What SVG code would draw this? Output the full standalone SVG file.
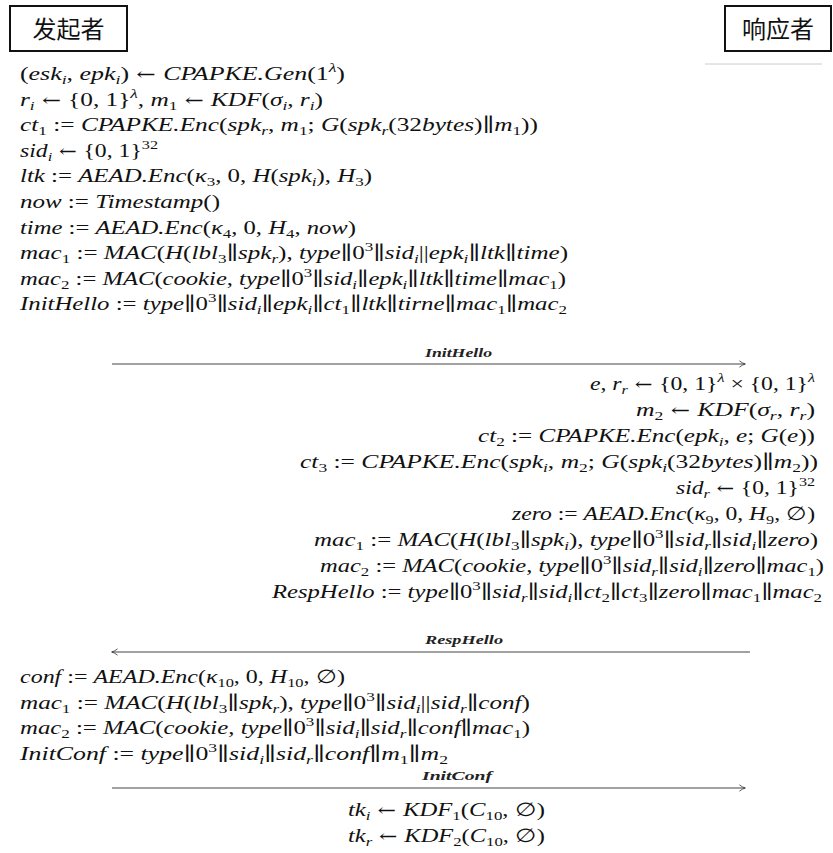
<svg xmlns="http://www.w3.org/2000/svg" width="833" height="853" viewBox="0 0 833 853">
<defs>
<style>
.m{font-family:"Liberation Serif","DejaVu Serif",serif;font-style:italic;font-size:19px;fill:#111}
.u{font-style:normal}
.a{font-family:"DejaVu Serif",serif;font-style:normal;font-size:17px}
.b{font-size:13px;baseline-shift:-4px}
.p{font-size:13px;baseline-shift:8px}
.lbl{font-family:"Liberation Serif","DejaVu Serif",serif;font-style:italic;font-weight:bold;font-size:12.5px;fill:#222}
.hd{font-family:"Noto Sans CJK SC","Noto Sans",sans-serif;font-size:24px;fill:#111;text-anchor:middle}
.box{fill:#fff;stroke:#111;stroke-width:2}
.arr{stroke:#444;stroke-width:1.1;fill:none;marker-end:url(#ah)}
</style>
<marker id="ah" viewBox="0 0 10 10" refX="9" refY="5" markerWidth="8" markerHeight="8" orient="auto" markerUnits="userSpaceOnUse">
<path d="M2,1 Q6,4.2 9.5,5 Q6,5.8 2,9" fill="none" stroke="#333" stroke-width="1"/>
</marker>
</defs>
<rect width="833" height="853" fill="#fff"/>

<g id="initiator">
<rect class="box" x="10" y="6" width="117" height="45"/>
<text class="hd" x="68.5" y="38">发起者</text>
</g>
<g id="responder">
<rect class="box" x="725" y="6" width="106" height="45"/>
<text class="hd" x="778" y="38">响应者</text>
<line x1="705" y1="64" x2="822" y2="64" stroke="#ccc" stroke-width="1"/>
</g>

<g id="initiator-step1">
<text class="m" x="20" y="80" textLength="325" lengthAdjust="spacingAndGlyphs"><tspan class="u">(</tspan>esk<tspan class="b">i</tspan><tspan class="u">, </tspan>epk<tspan class="b">i</tspan><tspan class="u">)</tspan><tspan class="a"> ← </tspan>CPAPKE.Gen<tspan class="u">(1</tspan><tspan class="p">λ</tspan><tspan class="u">)</tspan></text>
<text class="m" x="20" y="105.6" textLength="303" lengthAdjust="spacingAndGlyphs">r<tspan class="b">i</tspan><tspan class="a"> ← </tspan><tspan class="u">{0, 1}</tspan><tspan class="p">λ</tspan><tspan class="u">, </tspan>m<tspan class="b u">1</tspan><tspan class="a"> ← </tspan>KDF<tspan class="u">(</tspan>σ<tspan class="b">i</tspan><tspan class="u">, </tspan>r<tspan class="b">i</tspan><tspan class="u">)</tspan></text>
<text class="m" x="20" y="131.2" textLength="518" lengthAdjust="spacingAndGlyphs">ct<tspan class="b u">1</tspan><tspan class="u"> := </tspan>CPAPKE.Enc<tspan class="u">(</tspan>spk<tspan class="b">r</tspan><tspan class="u">, </tspan>m<tspan class="b u">1</tspan><tspan class="u">; </tspan>G<tspan class="u">(</tspan>spk<tspan class="b">r</tspan><tspan class="u">(32</tspan>bytes<tspan class="u">)∥</tspan>m<tspan class="b u">1</tspan><tspan class="u">))</tspan></text>
<text class="m" x="20" y="156.8" textLength="138" lengthAdjust="spacingAndGlyphs">sid<tspan class="b">i</tspan><tspan class="a"> ← </tspan><tspan class="u">{0, 1}</tspan><tspan class="p u">32</tspan></text>
<text class="m" x="20" y="182.4" textLength="352" lengthAdjust="spacingAndGlyphs">ltk<tspan class="u"> := </tspan>AEAD.Enc<tspan class="u">(</tspan>κ<tspan class="b u">3</tspan><tspan class="u">, 0, </tspan>H<tspan class="u">(</tspan>spk<tspan class="b">i</tspan><tspan class="u">), </tspan>H<tspan class="b u">3</tspan><tspan class="u">)</tspan></text>
<text class="m" x="20" y="208" textLength="200" lengthAdjust="spacingAndGlyphs">now<tspan class="u"> := </tspan>Timestamp<tspan class="u">()</tspan></text>
<text class="m" x="20" y="233.6" textLength="336" lengthAdjust="spacingAndGlyphs">time<tspan class="u"> := </tspan>AEAD.Enc<tspan class="u">(</tspan>κ<tspan class="b u">4</tspan><tspan class="u">, 0, </tspan>H<tspan class="b u">4</tspan><tspan class="u">, </tspan>now<tspan class="u">)</tspan></text>
<text class="m" x="20" y="259.2" textLength="548" lengthAdjust="spacingAndGlyphs">mac<tspan class="b u">1</tspan><tspan class="u"> := </tspan>MAC<tspan class="u">(</tspan>H<tspan class="u">(</tspan>lbl<tspan class="b u">3</tspan><tspan class="u">∥</tspan>spk<tspan class="b">r</tspan><tspan class="u">), </tspan>type<tspan class="u">∥0</tspan><tspan class="p u">3</tspan><tspan class="u">∥</tspan>sid<tspan class="b">i</tspan><tspan class="u">||</tspan>epk<tspan class="b">i</tspan><tspan class="u">∥</tspan>ltk<tspan class="u">∥</tspan>time<tspan class="u">)</tspan></text>
<text class="m" x="20" y="284.8" textLength="546" lengthAdjust="spacingAndGlyphs">mac<tspan class="b u">2</tspan><tspan class="u"> := </tspan>MAC<tspan class="u">(</tspan>cookie<tspan class="u">, </tspan>type<tspan class="u">∥0</tspan><tspan class="p u">3</tspan><tspan class="u">∥</tspan>sid<tspan class="b">i</tspan><tspan class="u">∥</tspan>epk<tspan class="b">i</tspan><tspan class="u">∥</tspan>ltk<tspan class="u">∥</tspan>time<tspan class="u">∥</tspan>mac<tspan class="b u">1</tspan><tspan class="u">)</tspan></text>
<text class="m" x="20" y="310.4" textLength="547" lengthAdjust="spacingAndGlyphs">InitHello<tspan class="u"> := </tspan>type<tspan class="u">∥0</tspan><tspan class="p u">3</tspan><tspan class="u">∥</tspan>sid<tspan class="b">i</tspan><tspan class="u">∥</tspan>epk<tspan class="b">i</tspan><tspan class="u">∥</tspan>ct<tspan class="b u">1</tspan><tspan class="u">∥</tspan>ltk<tspan class="u">∥</tspan>tirne<tspan class="u">∥</tspan>mac<tspan class="b u">1</tspan><tspan class="u">∥</tspan>mac<tspan class="b u">2</tspan></text>
</g>

<g id="responder-step">
<text class="m" x="590" y="390" textLength="225" lengthAdjust="spacingAndGlyphs">e<tspan class="u">, </tspan>r<tspan class="b">r</tspan><tspan class="a"> ← </tspan><tspan class="u">{0, 1}</tspan><tspan class="p">λ</tspan><tspan class="u"> × {0, 1}</tspan><tspan class="p">λ</tspan></text>
<text class="m" x="636" y="416" textLength="179" lengthAdjust="spacingAndGlyphs">m<tspan class="b u">2</tspan><tspan class="a"> ← </tspan>KDF<tspan class="u">(</tspan>σ<tspan class="b">r</tspan><tspan class="u">, </tspan>r<tspan class="b">r</tspan><tspan class="u">)</tspan></text>
<text class="m" x="478" y="442" textLength="337" lengthAdjust="spacingAndGlyphs">ct<tspan class="b u">2</tspan><tspan class="u"> := </tspan>CPAPKE.Enc<tspan class="u">(</tspan>epk<tspan class="b">i</tspan><tspan class="u">, </tspan>e<tspan class="u">; </tspan>G<tspan class="u">(</tspan>e<tspan class="u">))</tspan></text>
<text class="m" x="300" y="468" textLength="518" lengthAdjust="spacingAndGlyphs">ct<tspan class="b u">3</tspan><tspan class="u"> := </tspan>CPAPKE.Enc<tspan class="u">(</tspan>spk<tspan class="b">i</tspan><tspan class="u">, </tspan>m<tspan class="b u">2</tspan><tspan class="u">; </tspan>G<tspan class="u">(</tspan>spk<tspan class="b">i</tspan><tspan class="u">(32</tspan>bytes<tspan class="u">)∥</tspan>m<tspan class="b u">2</tspan><tspan class="u">))</tspan></text>
<text class="m" x="676" y="494" textLength="139" lengthAdjust="spacingAndGlyphs">sid<tspan class="b">r</tspan><tspan class="a"> ← </tspan><tspan class="u">{0, 1}</tspan><tspan class="p u">32</tspan></text>
<text class="m" x="512" y="520" textLength="303" lengthAdjust="spacingAndGlyphs">zero<tspan class="u"> := </tspan>AEAD.Enc<tspan class="u">(</tspan>κ<tspan class="b u">9</tspan><tspan class="u">, 0, </tspan>H<tspan class="b u">9</tspan><tspan class="u">, ∅)</tspan></text>
<text class="m" x="314" y="546" textLength="504" lengthAdjust="spacingAndGlyphs">mac<tspan class="b u">1</tspan><tspan class="u"> := </tspan>MAC<tspan class="u">(</tspan>H<tspan class="u">(</tspan>lbl<tspan class="b u">3</tspan><tspan class="u">∥</tspan>spk<tspan class="b">i</tspan><tspan class="u">), </tspan>type<tspan class="u">∥0</tspan><tspan class="p u">3</tspan><tspan class="u">∥</tspan>sid<tspan class="b">r</tspan><tspan class="u">∥</tspan>sid<tspan class="b">i</tspan><tspan class="u">∥</tspan>zero<tspan class="u">)</tspan></text>
<text class="m" x="320" y="572" textLength="504" lengthAdjust="spacingAndGlyphs">mac<tspan class="b u">2</tspan><tspan class="u"> := </tspan>MAC<tspan class="u">(</tspan>cookie<tspan class="u">, </tspan>type<tspan class="u">∥0</tspan><tspan class="p u">3</tspan><tspan class="u">∥</tspan>sid<tspan class="b">r</tspan><tspan class="u">∥</tspan>sid<tspan class="b">i</tspan><tspan class="u">∥</tspan>zero<tspan class="u">∥</tspan>mac<tspan class="b u">1</tspan><tspan class="u">)</tspan></text>
<text class="m" x="272" y="598" textLength="550" lengthAdjust="spacingAndGlyphs">RespHello<tspan class="u"> := </tspan>type<tspan class="u">∥0</tspan><tspan class="p u">3</tspan><tspan class="u">∥</tspan>sid<tspan class="b">r</tspan><tspan class="u">∥</tspan>sid<tspan class="b">i</tspan><tspan class="u">∥</tspan>ct<tspan class="b u">2</tspan><tspan class="u">∥</tspan>ct<tspan class="b u">3</tspan><tspan class="u">∥</tspan>zero<tspan class="u">∥</tspan>mac<tspan class="b u">1</tspan><tspan class="u">∥</tspan>mac<tspan class="b u">2</tspan></text>
</g>

<g id="initiator-step2">
<text class="m" x="20" y="683" textLength="325" lengthAdjust="spacingAndGlyphs">conf<tspan class="u"> := </tspan>AEAD.Enc<tspan class="u">(</tspan>κ<tspan class="b u">10</tspan><tspan class="u">, 0, </tspan>H<tspan class="b u">10</tspan><tspan class="u">, ∅)</tspan></text>
<text class="m" x="20" y="708.6" textLength="510" lengthAdjust="spacingAndGlyphs">mac<tspan class="b u">1</tspan><tspan class="u"> := </tspan>MAC<tspan class="u">(</tspan>H<tspan class="u">(</tspan>lbl<tspan class="b u">3</tspan><tspan class="u">∥</tspan>spk<tspan class="b">r</tspan><tspan class="u">), </tspan>type<tspan class="u">∥0</tspan><tspan class="p u">3</tspan><tspan class="u">∥</tspan>sid<tspan class="b">i</tspan><tspan class="u">||</tspan>sid<tspan class="b">r</tspan><tspan class="u">∥</tspan>conf<tspan class="u">)</tspan></text>
<text class="m" x="20" y="734.2" textLength="510" lengthAdjust="spacingAndGlyphs">mac<tspan class="b u">2</tspan><tspan class="u"> := </tspan>MAC<tspan class="u">(</tspan>cookie<tspan class="u">, </tspan>type<tspan class="u">∥0</tspan><tspan class="p u">3</tspan><tspan class="u">∥</tspan>sid<tspan class="b">i</tspan><tspan class="u">∥</tspan>sid<tspan class="b">r</tspan><tspan class="u">∥</tspan>conf<tspan class="u">∥</tspan>mac<tspan class="b u">1</tspan><tspan class="u">)</tspan></text>
<text class="m" x="20" y="759.8" textLength="428" lengthAdjust="spacingAndGlyphs">InitConf<tspan class="u"> := </tspan>type<tspan class="u">∥0</tspan><tspan class="p u">3</tspan><tspan class="u">∥</tspan>sid<tspan class="b">i</tspan><tspan class="u">∥</tspan>sid<tspan class="b">r</tspan><tspan class="u">∥</tspan>conf<tspan class="u">∥</tspan>m<tspan class="b u">1</tspan><tspan class="u">∥</tspan>m<tspan class="b u">2</tspan></text>
</g>

<g id="responder-keys">
<text class="m" x="348" y="816" textLength="197" lengthAdjust="spacingAndGlyphs">tk<tspan class="b">i</tspan><tspan class="a"> ← </tspan>KDF<tspan class="b u">1</tspan><tspan class="u">(</tspan>C<tspan class="b u">10</tspan><tspan class="u">, ∅)</tspan></text>
<text class="m" x="348" y="842" textLength="197" lengthAdjust="spacingAndGlyphs">tk<tspan class="b">r</tspan><tspan class="a"> ← </tspan>KDF<tspan class="b u">2</tspan><tspan class="u">(</tspan>C<tspan class="b u">10</tspan><tspan class="u">, ∅)</tspan></text>
</g>

<g id="connectors">
<line class="arr" x1="112" y1="364" x2="745" y2="364"/>
<text class="lbl" x="425" y="357" textLength="67" lengthAdjust="spacingAndGlyphs">InitHello</text>
<line class="arr" x1="750" y1="652" x2="112" y2="652"/>
<text class="lbl" x="425" y="644" textLength="78" lengthAdjust="spacingAndGlyphs">RespHello</text>
<line class="arr" x1="112" y1="788" x2="745" y2="788"/>
<text class="lbl" x="422" y="780" textLength="70" lengthAdjust="spacingAndGlyphs">InitConf</text>
</g>
</svg>
